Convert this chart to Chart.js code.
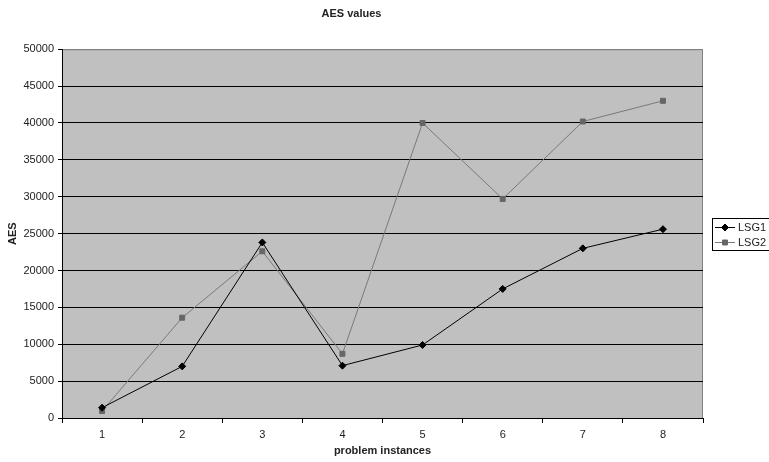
<!DOCTYPE html>
<html>
<head>
<meta charset="utf-8">
<script src="https://cdn.jsdelivr.net/npm/chart.js@4.4.0/dist/chart.umd.min.js"></script>
<style>
  html, body { margin: 0; padding: 0; background: #fff; }
  #wrap { width: 769px; height: 462px; }
</style>
</head>
<body>
<div id="wrap"><canvas id="aesChart" width="769" height="462"></canvas></div>
<script>
const instances = ['1', '2', '3', '4', '5', '6', '7', '8'];
const lsg1 = [1400, 7000, 23800, 7100, 9900, 17500, 23000, 25600];
const lsg2 = [950, 13600, 22600, 8700, 40000, 29700, 40200, 43000];
const yTicks = [0, 5000, 10000, 15000, 20000, 25000, 30000, 35000, 40000, 45000, 50000];

Chart.defaults.font.family = '"Liberation Sans", Arial, sans-serif';
Chart.defaults.font.size = 11;
Chart.defaults.color = '#222';

// grey plot background with a thin grey frame
const plotBack = {
  id: 'plotBack',
  beforeDraw(chart) {
    const {ctx, chartArea: a} = chart;
    ctx.save();
    ctx.fillStyle = '#c0c0c0';
    ctx.fillRect(a.left, a.top, a.right - a.left, a.bottom - a.top);
    ctx.strokeStyle = '#808080';
    ctx.lineWidth = 1;
    ctx.strokeRect(a.left + 0.5, a.top + 0.5, a.right - a.left - 1, a.bottom - a.top);
    ctx.restore();
  }
};

// boxed legend on the right side
const boxLegend = {
  id: 'boxLegend',
  afterDraw(chart) {
    const ctx = chart.ctx;
    const x = 712, y = 218, w = 58, h = 32;
    ctx.save();
    ctx.strokeStyle = '#000';
    ctx.lineWidth = 1;
    ctx.strokeRect(x + 0.5, y + 0.5, w, h);
    ctx.font = '11px "Liberation Sans", Arial, sans-serif';
    ctx.textBaseline = 'middle';
    chart.data.datasets.forEach((ds, i) => {
      const cy = y + 9 + i * 15;
      ctx.strokeStyle = ds.borderColor;
      ctx.beginPath();
      ctx.moveTo(x + 3, cy + 0.5);
      ctx.lineTo(x + 23, cy + 0.5);
      ctx.stroke();
      ctx.fillStyle = ds.pointBackgroundColor;
      ctx.strokeStyle = ds.pointBorderColor;
      Chart.helpers.drawPoint(ctx, {
        pointStyle: ds.pointStyle, radius: ds.pointRadius, borderWidth: 1
      }, x + 13, cy + 0.5);
      ctx.fillStyle = '#222';
      ctx.fillText(ds.label, x + 26, cy + 1);
    });
    ctx.restore();
  }
};

new Chart(document.getElementById('aesChart'), {
  type: 'line',
  data: {
    labels: instances,
    datasets: [{
      label: 'LSG1',
      data: lsg1,
      borderColor: '#000',
      borderWidth: 1,
      pointStyle: 'rectRot',
      pointRadius: 3.5,
      pointBackgroundColor: '#000',
      pointBorderColor: '#000',
      tension: 0
    }, {
      label: 'LSG2',
      data: lsg2,
      borderColor: '#7a7a7a',
      borderWidth: 1,
      pointStyle: 'rect',
      pointRadius: 3.5,
      pointBackgroundColor: '#666',
      pointBorderColor: '#666',
      tension: 0
    }]
  },
  options: {
    responsive: false,
    animation: false,
    layout: { padding: { left: 0, right: 66, top: 0, bottom: 0 } },
    plugins: {
      legend: { display: false },
      tooltip: { enabled: false },
      title: {
        display: true,
        text: 'AES values',
        color: '#222',
        font: { size: 11, weight: 'bold' },
        padding: { top: 7, bottom: 29 }
      }
    },
    scales: {
      x: {
        offset: true,
        afterFit: s => { s.height = 44; },
        grid: {
          offset: true,
          drawOnChartArea: false,
          drawTicks: true,
          tickLength: 5,
          tickColor: '#000'
        },
        border: { color: '#000', width: 1 },
        ticks: { padding: 5, color: '#222' },
        title: {
          display: true,
          text: 'problem instances',
          color: '#222',
          font: { size: 11, weight: 'bold' },
          padding: { top: 4, bottom: 4 }
        }
      },
      y: {
        min: 0,
        max: 50000,
        afterFit: s => { s.width = 62; },
        afterBuildTicks: s => { s.ticks = yTicks.map(v => ({ value: v })); },
        grid: {
          color: c => (c.tick && c.tick.value === 50000) ? '#808080' : '#000',
          tickColor: '#000',
          lineWidth: 1,
          tickLength: 4
        },
        border: { color: '#000', width: 1 },
        ticks: { padding: 4, color: '#222', callback: v => String(v) },
        title: {
          display: true,
          text: 'AES',
          color: '#222',
          font: { size: 11, weight: 'bold' },
          padding: { top: 6, bottom: 4 }
        }
      }
    }
  },
  plugins: [plotBack, boxLegend]
});
</script>
</body>
</html>
